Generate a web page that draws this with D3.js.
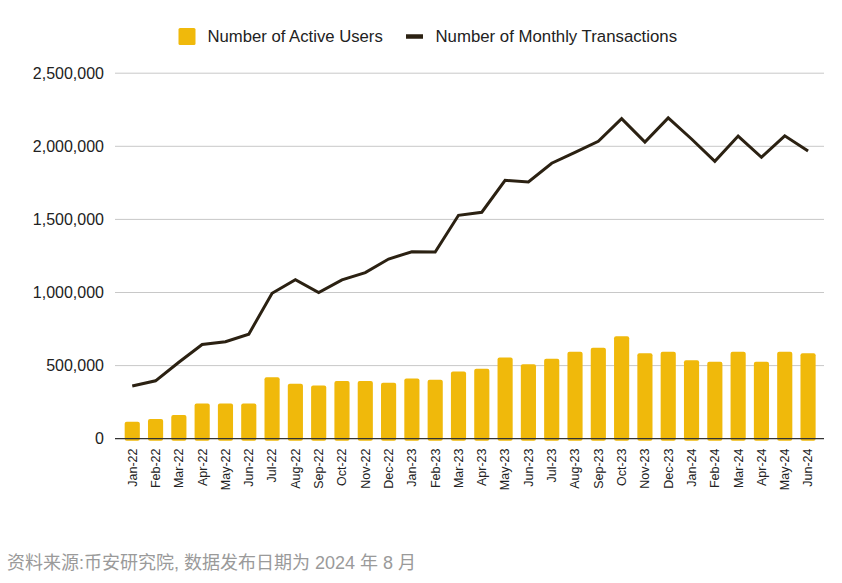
<!DOCTYPE html>
<html>
<head>
<meta charset="utf-8">
<script src="https://cdn.jsdelivr.net/npm/d3@7"></script>
<style>
  body { margin: 0; background: #fff; }
  svg { font-family: "Liberation Sans", Arial, sans-serif; }
</style>
</head>
<body>
<svg id="chart" width="842" height="583"></svg>
<script>
var months = ["Jan-22","Feb-22","Mar-22","Apr-22","May-22","Jun-22","Jul-22","Aug-22","Sep-22","Oct-22","Nov-22","Dec-22",
  "Jan-23","Feb-23","Mar-23","Apr-23","May-23","Jun-23","Jul-23","Aug-23","Sep-23","Oct-23","Nov-23","Dec-23",
  "Jan-24","Feb-24","Mar-24","Apr-24","May-24","Jun-24"];

var activeUsers = [116000, 135000, 162000, 241000, 241000, 241000, 421000, 376000, 364000, 394000, 394000, 383000,
  412000, 403000, 460000, 478000, 555000, 510000, 546000, 594000, 622000, 701000, 585000, 594000,
  537000, 526000, 594000, 526000, 594000, 585000];

var monthlyTx = [360000, 396000, 523000, 644000, 663000, 715000, 995000, 1088000, 999000, 1086000, 1136000, 1229000,
  1279000, 1277000, 1528000, 1549000, 1767000, 1756000, 1884000, 1959000, 2034000, 2189000, 2029000, 2194000,
  2050000, 1897000, 2070000, 1925000, 2072000, 1968000];

var yTicks = [0, 500000, 1000000, 1500000, 2000000, 2500000];

var svg = d3.select("#chart");
var gridLeft = 115, gridRight = 824;

var x = d3.scaleBand().domain(months).range([120.6, 819.7]).paddingInner(0.35).paddingOuter(0.175);
var y = d3.scaleLinear().domain([0, 2500000]).range([438.7, 73.2]);

// grid lines
svg.append("g").selectAll("line").data(yTicks.slice(1)).join("line")
  .attr("x1", gridLeft).attr("x2", gridRight)
  .attr("y1", d => y(d)).attr("y2", d => y(d))
  .attr("stroke", "#c8c8c8").attr("stroke-width", 1);

// y labels
svg.append("g").selectAll("text").data(yTicks).join("text")
  .attr("x", 104).attr("y", d => y(d)).attr("dy", "0.35em")
  .attr("text-anchor", "end").attr("font-size", 16).attr("fill", "#222")
  .text(d => d3.format(",")(d));

// bars
svg.append("g").selectAll("rect").data(activeUsers).join("rect")
  .attr("x", (d, i) => x(months[i]))
  .attr("width", x.bandwidth())
  .attr("y", d => y(d))
  .attr("height", d => y(0) - y(d) + 2)
  .attr("rx", 2)
  .attr("fill", "#F0B90B");

// baseline
svg.append("line")
  .attr("x1", gridLeft).attr("x2", gridRight)
  .attr("y1", y(0)).attr("y2", y(0))
  .attr("stroke", "#333").attr("stroke-width", 1.2);

// line
var line = d3.line()
  .x((d, i) => x(months[i]) + x.bandwidth() / 2)
  .y(d => y(d));
svg.append("path").datum(monthlyTx)
  .attr("d", line)
  .attr("fill", "none").attr("stroke", "#2B2112").attr("stroke-width", 3)
  .attr("stroke-linejoin", "miter");

// x labels
svg.append("g").selectAll("text").data(months).join("text")
  .attr("transform", d => "translate(" + (x(d) + x.bandwidth() / 2) + "," + 448.5 + ") rotate(-90)")
  .attr("dy", "0.35em")
  .attr("text-anchor", "end").attr("font-size", 12.5).attr("fill", "#222")
  .text(d => d);

// legend
var legend = svg.append("g");
legend.append("rect").attr("x", 178.5).attr("y", 28).attr("width", 17).attr("height", 17).attr("rx", 1.5).attr("fill", "#F0B90B");
legend.append("text").attr("x", 207.5).attr("y", 36.5).attr("dy", "0.35em").attr("font-size", 16.7).attr("fill", "#222").text("Number of Active Users");
legend.append("line").attr("x1", 406).attr("x2", 423).attr("y1", 36.5).attr("y2", 36.5).attr("stroke", "#2B2112").attr("stroke-width", 4.5);
legend.append("text").attr("x", 435.5).attr("y", 36.5).attr("dy", "0.35em").attr("font-size", 16.8).attr("fill", "#222").text("Number of Monthly Transactions");

// source
svg.append("text").attr("x", 7).attr("y", 569)
  .attr("font-size", 18).attr("fill", "#9a9a9a")
  .attr("font-family", "'Liberation Sans', 'Noto Sans CJK SC', sans-serif")
  .text("资料来源:币安研究院, 数据发布日期为 2024 年 8 月");
</script>
</body>
</html>
